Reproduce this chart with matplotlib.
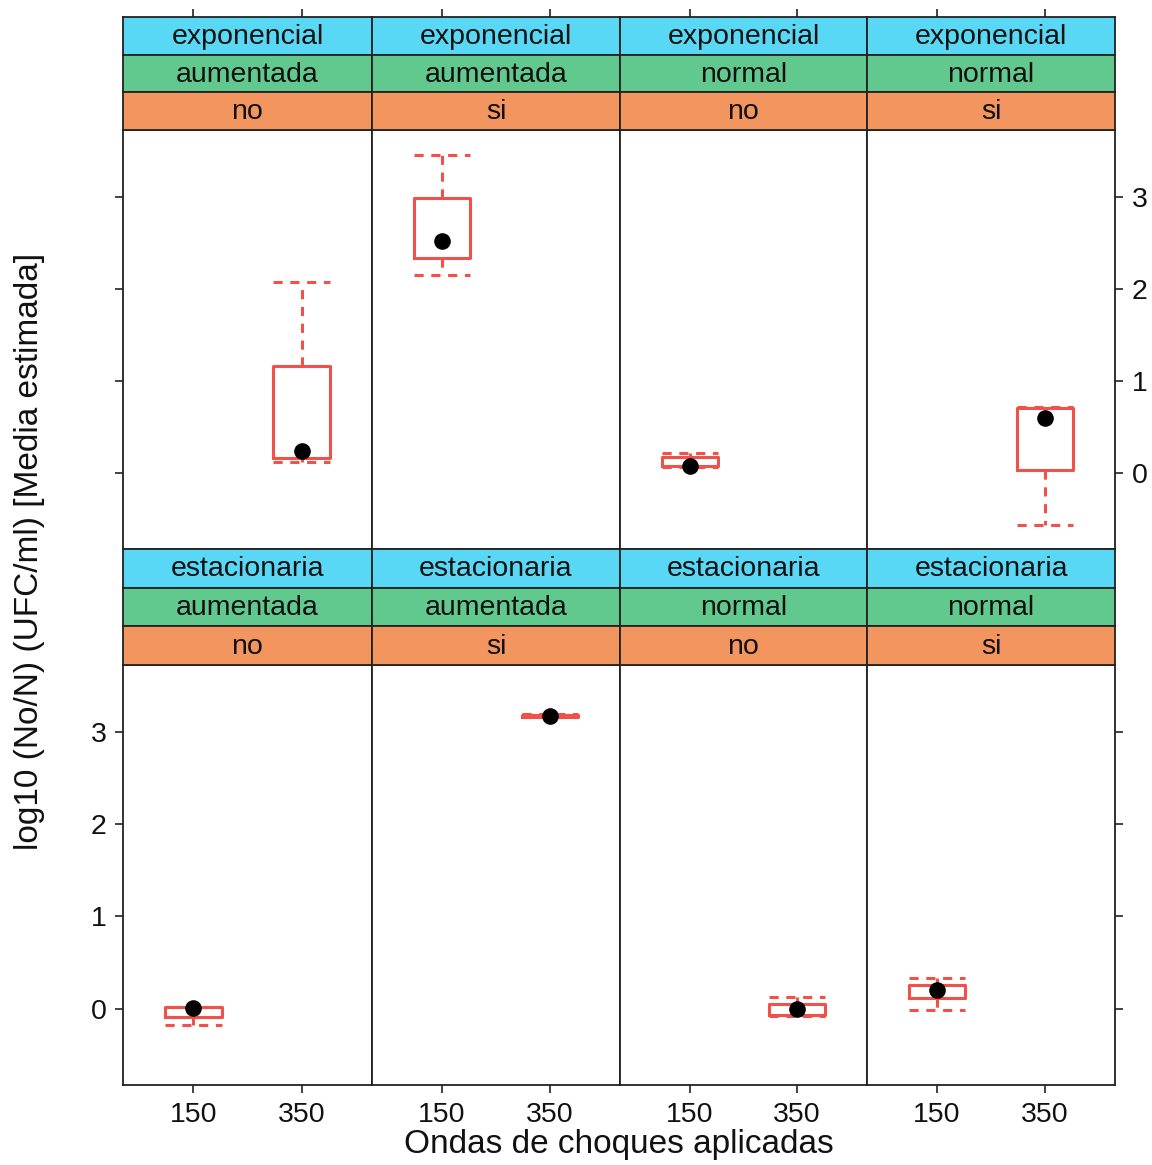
import matplotlib.pyplot as plt

plt.rcParams['font.family'] = ['Liberation Sans', 'DejaVu Sans']

# conditioning factors for the 8 panels (top row first)
fase = ['exponencial'] * 4 + ['estacionaria'] * 4
inoculo = ['aumentada', 'aumentada', 'normal', 'normal'] * 2
tratado = ['no', 'si', 'no', 'si'] * 2

# shock-wave dose present in each panel and its box statistics
dosis = [350, 150, 150, 350, 150, 350, 350, 150]
whislo = [0.12, 2.15, 0.06, -0.57, -0.18, 3.16, -0.08, -0.02]
q1 = [0.16, 2.34, 0.07, 0.03, -0.09, 3.17, -0.07, 0.11]
mediana = [0.24, 2.52, 0.07, 0.60, 0.01, 3.18, -0.01, 0.20]
q3 = [1.16, 2.99, 0.17, 0.70, 0.02, 3.19, 0.05, 0.26]
whishi = [2.08, 3.46, 0.22, 0.71, 0.02, 3.20, 0.13, 0.33]

niveles = [150, 350]
yticks = [0, 1, 2, 3]

W, H = 1152, 1165
fig = plt.figure(figsize=(W / 100, H / 100), dpi=100)

cols = [123, 372, 620, 867, 1115]
# (strip top, panel top, panel bottom) in pixels for each row
rows = [(17, 130, 549), (549, 665, 1085)]
strip_cols = ['#58D8F4', '#62C98E', '#F2955F']
rojo = '#F0524A'
borde = '#222222'


def box(px_l, px_t, px_r, px_b):
    return [px_l / W, 1 - px_b / H, (px_r - px_l) / W, (px_b - px_t) / H]


for i in range(8):
    r, c = divmod(i, 4)
    st, pt, pb = rows[r]
    l, rgt = cols[c], cols[c + 1]
    ax = fig.add_axes(box(l, pt, rgt, pb))

    pos = niveles.index(dosis[i]) + 1
    stats = [dict(med=mediana[i], q1=q1[i], q3=q3[i],
                  whislo=whislo[i], whishi=whishi[i])]
    ax.bxp(stats, positions=[pos], widths=0.52, capwidths=[0.52],
           showfliers=False,
           boxprops=dict(color=rojo, lw=2.2),
           whiskerprops=dict(color=rojo, lw=2.2, ls=(0, (3, 2.5))),
           capprops=dict(color=rojo, lw=2.2, ls=(0, (3, 2.5))),
           medianprops=dict(lw=0))
    ax.scatter([pos], [mediana[i]], s=120, color='black', zorder=5)

    ax.set_xlim(0.35, 2.65)
    ax.set_ylim(-0.83, 3.73)
    ax.set_yticks(yticks)
    ax.set_xticks([1, 2])
    for s in ax.spines.values():
        s.set_color(borde)
        s.set_linewidth(1.3)
    ax.tick_params(direction='out', length=6, width=1.2, color=borde,
                   labelsize=20.5, pad=6, labelcolor='#111111')

    if r == 0:
        ax.tick_params(axis='x', bottom=False, labelbottom=False)
    else:
        ax.set_xticklabels([str(n) for n in niveles])

    # y axis only on outer columns, labels alternate between rows
    ax.tick_params(axis='y', left=(c == 0), right=(c == 3),
                   labelleft=(c == 0 and r == 1),
                   labelright=(c == 3 and r == 0))

    # three stacked strips above each panel
    sh = (pt - st) / 3
    textos = [fase[i], inoculo[i], tratado[i]]
    for k in range(3):
        sa = fig.add_axes(box(l, st + k * sh, rgt, st + (k + 1) * sh))
        sa.set_facecolor(strip_cols[k])
        sa.set_xlim(0.35, 2.65)
        sa.set_ylim(0, 1)
        sa.set_yticks([])
        for s in sa.spines.values():
            s.set_color(borde)
            s.set_linewidth(1.3)
        if r == 0 and k == 0:
            sa.set_xticks([1, 2])
            sa.tick_params(axis='x', top=True, bottom=False,
                           labeltop=False, labelbottom=False,
                           direction='out', length=6, width=1.2, color=borde)
        else:
            sa.set_xticks([])
        sa.text(0.5, 0.47, textos[k], transform=sa.transAxes,
                ha='center', va='center', fontsize=20.5, color='#111111')

fig.text((cols[0] + cols[-1]) / 2 / W, 1 - 1145 / H,
         'Ondas de choques aplicadas', ha='center', va='center',
         fontsize=24, color='#111111')
fig.text(30 / W, 1 - 551 / H, 'log10 (No/N) (UFC/ml) [Media estimada]',
         ha='center', va='center', rotation=90, fontsize=24,
         color='#111111')

fig.savefig('out.png', dpi=100, facecolor='white')
